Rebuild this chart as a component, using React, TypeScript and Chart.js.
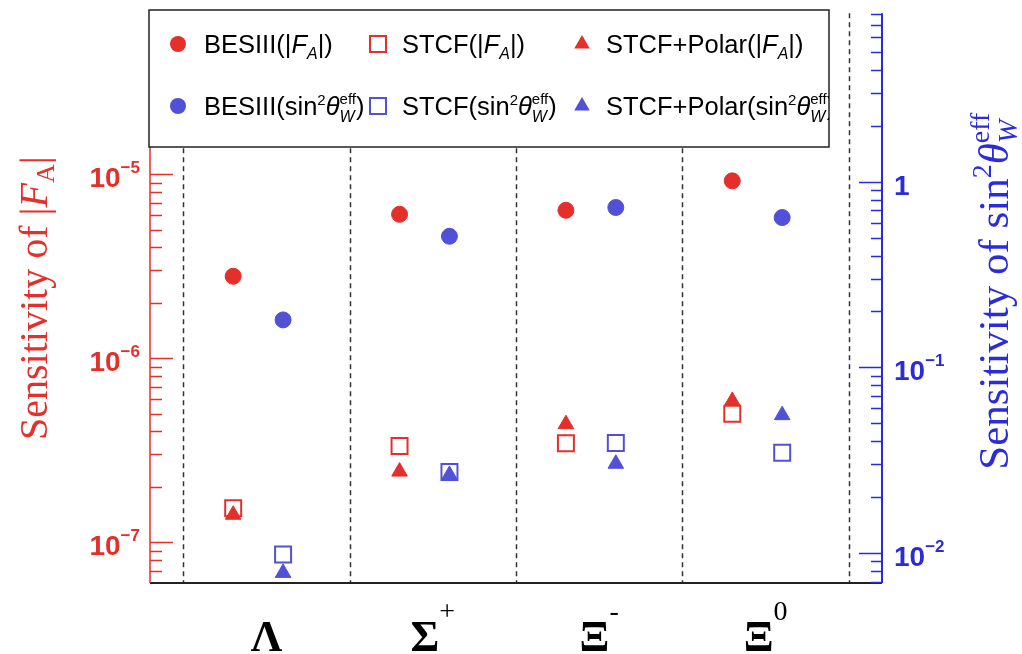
import { useEffect, useRef } from 'react';
import { Chart, registerables } from 'chart.js';

Chart.register(...registerables);

// ---------- data ----------
const categories = ['Λ', 'Σ', 'Ξ', 'Ξ'];
const categorySup = ['', '+', '-', '0'];
const categoryCentre = [0.5, 1.5, 2.5, 3.5];
const dividers = [0, 1, 2, 3, 4];
const faX = [0.3, 1.3, 2.3, 3.3];
const swX = [0.6, 1.6, 2.6, 3.6];

const besiiiFA = [2.79e-6, 6.06e-6, 6.37e-6, 9.21e-6];
const stcfFA = [1.53e-7, 3.33e-7, 3.45e-7, 4.99e-7];
const stcfPolarFA = [1.41e-7, 2.42e-7, 4.38e-7, 5.86e-7];
const besiiiSW = [0.18, 0.508, 0.726, 0.641];
const stcfSW = [0.0098, 0.0273, 0.0391, 0.0346];
const stcfPolarSW = [0.0078, 0.0263, 0.0302, 0.0552];

const leftMajorTicks = [1e-7, 1e-6, 1e-5];
const leftTickExponents = ['−7', '−6', '−5'];
const rightMajorTicks = [1e-2, 1e-1, 1];
const rightTickExponents = ['−2', '−1', ''];
const xRange = [-0.2, 4.2];
const leftRange = [6.47e-8, 7.5e-5];
const rightRange = [6.88e-3, 8.08];

// ---------- styles ----------
const RED = '#e3302a';
const BLUE = '#5151d8';
const BLUE_AXIS = '#2b2bdc';
const SANS = 'Liberation Sans';
const SERIF = 'Liberation Serif';

type Seg = { t: string; f: string; dy?: number; stack?: boolean };

function runWidth(ctx: CanvasRenderingContext2D, segs: Seg[]) {
  let w = 0;
  let pending = 0;
  for (const s of segs) {
    ctx.font = s.f;
    const sw = ctx.measureText(s.t).width;
    if (s.stack) {
      pending = Math.max(pending, sw);
      continue;
    }
    w += Math.max(sw, pending);
    pending = 0;
  }
  return w + pending;
}

function drawRun(ctx: CanvasRenderingContext2D, segs: Seg[], x: number, y: number) {
  let cx = x;
  let pending = 0;
  for (const s of segs) {
    ctx.font = s.f;
    const sw = ctx.measureText(s.t).width;
    ctx.fillText(s.t, cx, y + (s.dy || 0));
    if (s.stack) {
      pending = Math.max(pending, sw);
      continue;
    }
    cx += Math.max(sw, pending);
    pending = 0;
  }
  return cx + pending;
}

function logTicks(min: number, max: number) {
  const out: { v: number; major: boolean }[] = [];
  for (let e = Math.floor(Math.log10(min)); e <= Math.ceil(Math.log10(max)); e++) {
    for (let k = 1; k <= 9; k++) {
      const v = k * Math.pow(10, e);
      if (v >= min && v <= max) out.push({ v, major: k === 1 });
    }
  }
  return out;
}

const LF = `25.5px ${SANS}`;
const LFI = `italic 25.5px ${SANS}`;
const LFS = `15px ${SANS}`;
const LFSI = `italic 16px ${SANS}`;

const faSegs = (pre: string): Seg[] => [
  { t: pre + '(|', f: LF },
  { t: 'F', f: LFI },
  { t: 'A', f: LFSI, dy: 6 },
  { t: '|)', f: LF },
];
const swSegs = (pre: string): Seg[] => [
  { t: pre + '(sin', f: LF },
  { t: '2', f: LFS, dy: -10 },
  { t: 'θ', f: LFI },
  { t: 'eff', f: LFS, dy: -11, stack: true },
  { t: 'W', f: LFSI, dy: 7 },
  { t: ')', f: LF },
];

const legendEntries = [
  { label: faSegs('BESIII'), style: 'circle', color: RED, col: 0, row: 0 },
  { label: faSegs('STCF'), style: 'rect', color: RED, col: 1, row: 0 },
  { label: faSegs('STCF+Polar'), style: 'triangle', color: RED, col: 2, row: 0 },
  { label: swSegs('BESIII'), style: 'circle', color: BLUE, col: 0, row: 1 },
  { label: swSegs('STCF'), style: 'rect', color: BLUE, col: 1, row: 1 },
  { label: swSegs('STCF+Polar'), style: 'triangle', color: BLUE, col: 2, row: 1 },
];

function drawMarker(ctx: CanvasRenderingContext2D, style: string, x: number, y: number, color: string) {
  ctx.save();
  ctx.fillStyle = color;
  ctx.strokeStyle = color;
  ctx.lineWidth = 2;
  ctx.beginPath();
  if (style === 'circle') {
    ctx.arc(x, y, 8, 0, Math.PI * 2);
    ctx.fill();
  } else if (style === 'rect') {
    ctx.rect(x - 8, y - 8, 16, 16);
    ctx.stroke();
  } else {
    const r = 9;
    ctx.moveTo(x, y - r);
    ctx.lineTo(x + r * 0.866, y + r / 2);
    ctx.lineTo(x - r * 0.866, y + r / 2);
    ctx.closePath();
    ctx.fill();
  }
  ctx.restore();
}

const decorPlugin = {
  id: 'decor',
  beforeDatasetsDraw(chart: any) {
    const { ctx, chartArea } = chart;
    const xs = chart.scales.x;
    ctx.save();
    ctx.strokeStyle = '#333';
    ctx.lineWidth = 1.5;
    ctx.setLineDash([5, 4]);
    for (const d of dividers) {
      const px = Math.round(xs.getPixelForValue(d)) + 0.5;
      ctx.beginPath();
      ctx.moveTo(px, chartArea.top);
      ctx.lineTo(px, chartArea.bottom);
      ctx.stroke();
    }
    ctx.restore();
  },
  afterDatasetsDraw(chart: any) {
    const { ctx, chartArea } = chart;
    const xs = chart.scales.x;
    const yl = chart.scales.yL;
    const yr = chart.scales.yR;
    const { left, right, top, bottom } = chartArea;
    ctx.save();

    // bottom axis
    ctx.strokeStyle = '#222';
    ctx.lineWidth = 1.8;
    ctx.beginPath();
    ctx.moveTo(left, bottom);
    ctx.lineTo(right, bottom);
    ctx.stroke();

    // left axis
    ctx.strokeStyle = RED;
    ctx.lineWidth = 1.5;
    ctx.beginPath();
    ctx.moveTo(left, top);
    ctx.lineTo(left, bottom);
    for (const t of logTicks(leftRange[0], leftRange[1])) {
      const py = Math.round(yl.getPixelForValue(t.v)) + 0.5;
      ctx.moveTo(left, py);
      ctx.lineTo(left + (t.major ? 23 : 12), py);
    }
    ctx.stroke();

    // right axis
    ctx.strokeStyle = BLUE_AXIS;
    ctx.lineWidth = 2;
    ctx.beginPath();
    ctx.moveTo(right, top);
    ctx.lineTo(right, bottom);
    ctx.stroke();
    ctx.lineWidth = 1.5;
    ctx.beginPath();
    for (const t of logTicks(rightRange[0], rightRange[1])) {
      const py = Math.round(yr.getPixelForValue(t.v)) + 0.5;
      ctx.moveTo(right, py);
      ctx.lineTo(right - (t.major ? 23 : 11), py);
    }
    ctx.stroke();

    // tick labels
    ctx.textBaseline = 'alphabetic';
    ctx.textAlign = 'left';
    const TF = `bold 28px ${SANS}`;
    const TFS = `bold 17px ${SANS}`;
    ctx.fillStyle = RED;
    leftMajorTicks.forEach((v, i) => {
      const py = yl.getPixelForValue(v);
      const segs: Seg[] = [{ t: '10', f: TF }, { t: leftTickExponents[i], f: TFS, dy: -14 }];
      const w = runWidth(ctx, segs);
      drawRun(ctx, segs, left - 10 - w, py + 13);
    });
    ctx.fillStyle = BLUE_AXIS;
    rightMajorTicks.forEach((v, i) => {
      const py = yr.getPixelForValue(v);
      const segs: Seg[] = rightTickExponents[i]
        ? [{ t: '10', f: TF }, { t: rightTickExponents[i], f: TFS, dy: -14 }]
        : [{ t: '1', f: TF }];
      drawRun(ctx, segs, right + 12, py + 13);
    });

    // category labels
    ctx.fillStyle = '#000';
    categories.forEach((c, i) => {
      const segs: Seg[] = [{ t: c, f: `bold 44px ${SERIF}` }];
      if (categorySup[i]) segs.push({ t: categorySup[i], f: `28px ${SERIF}`, dy: -31 });
      const w = runWidth(ctx, segs);
      const px = xs.getPixelForValue(categoryCentre[i]);
      drawRun(ctx, segs, px - w / 2, 651);
    });

    // axis titles
    const cy = (top + bottom) / 2;
    ctx.fillStyle = RED;
    const lt: Seg[] = [
      { t: 'Sensitivity of |', f: `40px ${SERIF}` },
      { t: 'F', f: `italic 40px ${SERIF}` },
      { t: 'A', f: `26px ${SERIF}`, dy: 7 },
      { t: '|', f: `40px ${SERIF}` },
    ];
    ctx.save();
    ctx.translate(47, cy);
    ctx.rotate(-Math.PI / 2);
    drawRun(ctx, lt, -runWidth(ctx, lt) / 2, 0);
    ctx.restore();

    ctx.fillStyle = BLUE_AXIS;
    const rt: Seg[] = [
      { t: 'Sensitivity of sin', f: `43px ${SERIF}` },
      { t: '2', f: `28px ${SERIF}`, dy: -17 },
      { t: 'θ', f: `italic 43px ${SERIF}` },
      { t: 'eff', f: `28px ${SERIF}`, dy: -19, stack: true },
      { t: 'W', f: `italic 28px ${SERIF}`, dy: 9 },
    ];
    ctx.save();
    ctx.translate(1008, cy - 7);
    ctx.rotate(-Math.PI / 2);
    drawRun(ctx, rt, -runWidth(ctx, rt) / 2, 0);
    ctx.restore();

    // legend box
    const bx = 149, by = 10, bw = 680, bh = 137;
    ctx.fillStyle = '#fff';
    ctx.fillRect(bx, by, bw, bh);
    ctx.strokeStyle = '#222';
    ctx.lineWidth = 1.5;
    ctx.strokeRect(bx, by, bw, bh);
    ctx.save();
    ctx.beginPath();
    ctx.rect(bx, by, bw, bh);
    ctx.clip();
    const mx = [178, 378, 582];
    const tx = [204, 402, 606];
    const ry = [44, 106];
    for (const e of legendEntries) {
      drawMarker(ctx, e.style, mx[e.col], ry[e.row], e.color);
      ctx.fillStyle = '#000';
      drawRun(ctx, e.label, tx[e.col], ry[e.row] + 9);
    }
    ctx.restore();

    ctx.restore();
  },
};

export default function App() {
  const ref = useRef<HTMLCanvasElement | null>(null);
  useEffect(() => {
    if (!ref.current) return;
    const pts = (xs: number[], ys: number[]) => xs.map((x, i) => ({ x, y: ys[i] }));
    const chart = new Chart(ref.current, {
      type: 'scatter',
      data: {
        datasets: [
          { label: 'BESIII(|F_A|)', data: pts(faX, besiiiFA), yAxisID: 'yL', pointStyle: 'circle', pointRadius: 8, backgroundColor: RED, borderColor: RED, borderWidth: 1 },
          { label: 'BESIII(sin2thetaW)', data: pts(swX, besiiiSW), yAxisID: 'yR', pointStyle: 'circle', pointRadius: 8, backgroundColor: BLUE, borderColor: BLUE, borderWidth: 1 },
          { label: 'STCF(|F_A|)', data: pts(faX, stcfFA), yAxisID: 'yL', pointStyle: 'rect', pointRadius: 11.3, backgroundColor: 'rgba(0,0,0,0)', borderColor: RED, borderWidth: 2 },
          { label: 'STCF(sin2thetaW)', data: pts(swX, stcfSW), yAxisID: 'yR', pointStyle: 'rect', pointRadius: 11.3, backgroundColor: 'rgba(0,0,0,0)', borderColor: BLUE, borderWidth: 2 },
          { label: 'STCF+Polar(|F_A|)', data: pts(faX, stcfPolarFA), yAxisID: 'yL', pointStyle: 'triangle', pointRadius: 9, backgroundColor: RED, borderColor: RED, borderWidth: 1 },
          { label: 'STCF+Polar(sin2thetaW)', data: pts(swX, stcfPolarSW), yAxisID: 'yR', pointStyle: 'triangle', pointRadius: 9, backgroundColor: BLUE, borderColor: BLUE, borderWidth: 1 },
        ],
      },
      options: {
        responsive: false,
        animation: false,
        devicePixelRatio: 1,
        events: [],
        layout: { padding: { left: 150, right: 140, top: 10, bottom: 71 } },
        plugins: { legend: { display: false }, tooltip: { enabled: false } },
        scales: {
          x: { type: 'linear', min: xRange[0], max: xRange[1], display: false },
          yL: { type: 'logarithmic', position: 'left', min: leftRange[0], max: leftRange[1], display: false },
          yR: { type: 'logarithmic', position: 'right', min: rightRange[0], max: rightRange[1], display: false },
        },
      },
      plugins: [decorPlugin],
    } as any);
    return () => chart.destroy();
  }, []);
  return (
    <div style={{ position: 'absolute', left: 0, top: 0, width: 1022, height: 654, background: '#fff' }}>
      <canvas ref={ref} width={1022} height={654} style={{ display: 'block' }} />
    </div>
  );
}
